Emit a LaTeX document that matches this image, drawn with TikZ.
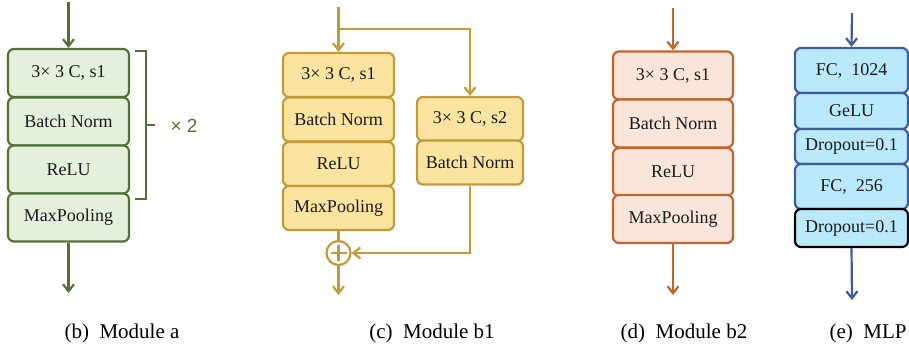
\documentclass[tikz,border=0pt]{standalone}
\usepackage{fontspec}
\setmainfont{Liberation Serif}
\newfontfamily\sansf{Liberation Sans}
\usetikzlibrary{arrows.meta}
\definecolor{gline}{HTML}{547135}
\definecolor{gfill}{HTML}{E5F0DC}
\definecolor{yline}{HTML}{C29A38}
\definecolor{yfill}{HTML}{FBE4A0}
\definecolor{oline}{HTML}{C0652C}
\definecolor{ofill}{HTML}{F9E5D9}
\definecolor{bline}{HTML}{3E5C9A}
\definecolor{bfill}{HTML}{B9E9FA}
\definecolor{txt}{HTML}{1A1A1A}
\tikzset{
  blk/.style={rounded corners=6pt, line width=2.2pt, inner sep=0pt, text=txt,
    font=\fontsize{18}{20}\selectfont},
  gbox/.style={blk, draw=gline, fill=gfill, minimum width=121pt, minimum height=48pt},
  ybox/.style={blk, draw=yline, fill=yfill, minimum width=111pt, minimum height=44pt},
  yboxr/.style={blk, draw=yline, fill=yfill, minimum width=106pt, minimum height=44pt},
  obox/.style={blk, draw=oline, fill=ofill, minimum width=120pt, minimum height=48pt},
  bbox/.style={blk, draw=bline, fill=bfill, minimum width=113pt},
  lnk/.style={line width=2.2pt},
  arr/.style={lnk, -{Straight Barb[length=7pt,width=11pt]}},
  captxt/.style={font=\fontsize{21}{24}\selectfont, text=black},
}
\begin{document}
\begin{tikzpicture}[x=1pt,y=-1pt]
\useasboundingbox (0,0) rectangle (909,349);
% ---------------- Module a
\node[gbox] (a1) at (68.5,73) {3\texttimes\ 3 C, s1};
\node[gbox] (a2) at (68.5,121.5) {Batch Norm};
\node[gbox] (a3) at (68.5,169.5) {ReLU};
\node[gbox] (a4) at (68.5,217.5) {MaxPooling};
\coordinate (ain) at (68.5,2);
\coordinate (aout) at (68.5,293);
\draw[arr, gline] (ain) -- (a1.north);
\draw[arr, gline] (a4.south) -- (aout);
\coordinate (br1) at (135,51);
\coordinate (br2) at (135,199);
\draw[gline, lnk] (br1) -- (146,51) -- (146,199) -- (br2);
\draw[gline, lnk] (146,125) -- (155,125);
\node[font=\sansf\fontsize{19}{22}\selectfont, text=gline] (ax2) at (184,126) {\texttimes\ 2};
\node[captxt] (capa) at (122,333) {(b)\enspace Module a};
% ---------------- Module b1
\node[ybox] (b1) at (338.5,75) {3\texttimes\ 3 C, s1};
\node[ybox] (b2) at (338.5,119.5) {Batch Norm};
\node[ybox] (b3) at (338.5,164) {ReLU};
\node[ybox] (b4) at (338.5,208) {MaxPooling};
\node[yboxr] (r1) at (470,119) {3\texttimes\ 3 C, s2};
\node[yboxr] (r2) at (470,162.5) {Batch Norm};
\node[circle, draw=yline, lnk, minimum size=24pt, inner sep=0pt] (sum) at (338.5,253) {};
\draw[yline, lnk] ([yshift=-8pt]sum.center) -- ([yshift=8pt]sum.center)
  ([xshift=-8pt]sum.center) -- ([xshift=8pt]sum.center);
\coordinate (bin) at (338.5,7);
\coordinate (bsplit) at (338.5,29);
\coordinate (bout) at (338.5,295);
\draw[arr, yline] (bin) -- (b1.north);
\draw[arr, yline] (bsplit) -| (r1.north);
\draw[yline, lnk] (b4.south) -- (sum.north);
\draw[arr, yline] (r2.south) |- (sum.east);
\draw[arr, yline] (sum.south) -- (bout);
\node[captxt] (capb) at (432,333) {(c)\enspace Module b1};
% ---------------- Module b2
\node[obox] (c1) at (673,75.5) {3\texttimes\ 3 C, s1};
\node[obox] (c2) at (673,123.5) {Batch Norm};
\node[obox] (c3) at (673,172) {ReLU};
\node[obox] (c4) at (673,219) {MaxPooling};
\coordinate (cin) at (673,8);
\coordinate (cout) at (673,295);
\draw[arr, oline] (cin) -- (c1.north);
\draw[arr, oline] (c4.south) -- (cout);
\node[captxt] (capc) at (684,333) {(d)\enspace Module b2};
% ---------------- MLP
\node[bbox, minimum height=45pt] (m1) at (851.5,70.5) {FC,\enspace 1024};
\node[bbox, minimum height=36pt] (m2) at (851.5,111) {GeLU};
\node[bbox, minimum height=35pt] (m3) at (851.5,146.5) {Dropout=0.1};
\node[bbox, minimum height=45pt] (m4) at (851.5,186.5) {FC,\enspace 256};
\node[bbox, draw=black, minimum height=38pt] (m5) at (851.5,228) {Dropout=0.1};
\coordinate (min) at (852,13);
\coordinate (mout) at (852,300);
\draw[arr, bline] (min) -- (m1.north);
\draw[arr, bline] (m5.south) -- (mout);
\node[captxt, anchor=west] (capd) at (826,333) {(e)\enspace MLP};
\end{tikzpicture}
\end{document}
